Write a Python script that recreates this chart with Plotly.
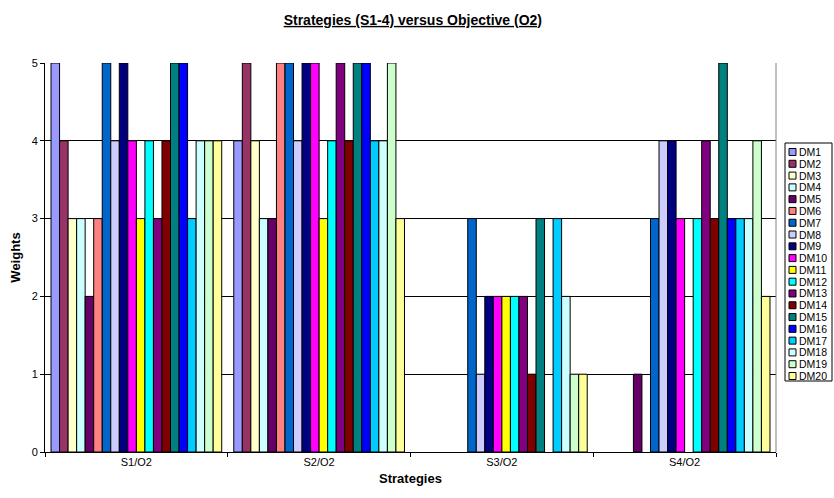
import plotly.graph_objects as go

categories = ["S1/O2", "S2/O2", "S3/O2", "S4/O2"]
series_names = [f"DM{i}" for i in range(1, 21)]
colors = ["#9999FF", "#993366", "#FFFFCC", "#CCFFFF", "#660066", "#FF8080", "#0066CC",
          "#CCCCFF", "#000080", "#FF00FF", "#FFFF00", "#00FFFF", "#800080", "#800000",
          "#008080", "#0000FF", "#00CCFF", "#CCFFFF", "#CCFFCC", "#FFFF99"]

DM1 = [5, 4, 0, 0]
DM2 = [4, 5, 0, 0]
DM3 = [3, 4, 0, 0]
DM4 = [3, 3, 0, 0]
DM5 = [2, 3, 0, 1]
DM6 = [3, 5, 0, 0]
DM7 = [5, 5, 3, 3]
DM8 = [4, 4, 1, 4]
DM9 = [5, 5, 2, 4]
DM10 = [4, 5, 2, 3]
DM11 = [3, 3, 2, 0]
DM12 = [4, 4, 2, 3]
DM13 = [3, 5, 2, 4]
DM14 = [4, 4, 1, 3]
DM15 = [5, 5, 3, 5]
DM16 = [5, 5, 0, 3]
DM17 = [3, 4, 3, 3]
DM18 = [4, 4, 2, 3]
DM19 = [4, 5, 1, 4]
DM20 = [4, 3, 1, 2]
values = [DM1, DM2, DM3, DM4, DM5, DM6, DM7, DM8, DM9, DM10,
          DM11, DM12, DM13, DM14, DM15, DM16, DM17, DM18, DM19, DM20]

W, H = 834, 498
ML, MR, MT, MB = 45, 58, 63, 46
PW = W - ML - MR
PH = H - MT - MB
FONT = "Liberation Sans, Arial, sans-serif"

fig = go.Figure()
for name, vals, col in zip(series_names, values, colors):
    fig.add_trace(go.Bar(x=categories, y=vals, name=name,
                         marker=dict(color=col,
                                     line=dict(color="#000000",
                                               width=[1 if v > 0 else 0 for v in vals]))))

def px_x(px):
    return (px - ML) / PW

def px_y(py):
    return (H - MB - py) / PH

shapes = []
annotations = []
# right plot-area border
shapes.append(dict(type="line", xref="paper", yref="paper", x0=1, x1=1, y0=0, y1=1,
                   line=dict(color="#808080", width=1)))
# custom legend box
lx0, lx1, ly0, ly1 = 785, 832, 143, 381
shapes.append(dict(type="rect", xref="paper", yref="paper",
                   x0=px_x(lx0), x1=px_x(lx1), y0=px_y(ly1), y1=px_y(ly0),
                   line=dict(color="#000000", width=1), fillcolor="white"))
step = (376 - 152) / 19
for i, (name, col) in enumerate(zip(series_names, colors)):
    cy = 152 + i * step
    shapes.append(dict(type="rect", xref="paper", yref="paper",
                       x0=px_x(789), x1=px_x(796), y0=px_y(cy + 3.5), y1=px_y(cy - 3.5),
                       line=dict(color="#000000", width=1), fillcolor=col))
    annotations.append(dict(text=name, xref="paper", yref="paper", x=px_x(797), y=px_y(cy),
                            xanchor="left", yanchor="middle", showarrow=False,
                            font=dict(size=10.5, color="#000000", family=FONT)))

fig.update_layout(
    width=W, height=H,
    margin=dict(l=ML, r=MR, t=MT, b=MB, autoexpand=False),
    paper_bgcolor="white", plot_bgcolor="white",
    barmode="group", bargap=0.066, bargroupgap=0,
    showlegend=False,
    font=dict(family=FONT, size=10, color="#000000"),
    title=dict(text="<b><u>Strategies (S1-4) versus Objective (O2)</u></b>",
               x=0.495, xanchor="center", y=1 - 20 / H, yanchor="middle",
               font=dict(size=14, family=FONT, color="#000000")),
    xaxis=dict(showline=True, linecolor="#000000", linewidth=1, ticks="outside",
               tickson="boundaries", ticklen=4, tickcolor="#000000", showgrid=False,
               title=dict(text="<b>Strategies</b>", font=dict(size=13), standoff=6),
               tickfont=dict(size=11)),
    yaxis=dict(range=[0, 5], dtick=1, showline=True, linecolor="#000000", linewidth=1,
               ticks="outside", ticklen=4, tickcolor="#000000", showgrid=True,
               gridcolor="#000000", gridwidth=1, zeroline=False,
               title=dict(text="<b>Weights</b>", font=dict(size=13), standoff=8),
               tickfont=dict(size=11)),
    shapes=shapes, annotations=annotations,
)

fig.write_html("out.html", config={"displayModeBar": False},
               post_script="document.body.style.margin='0';document.body.style.padding='0';")
